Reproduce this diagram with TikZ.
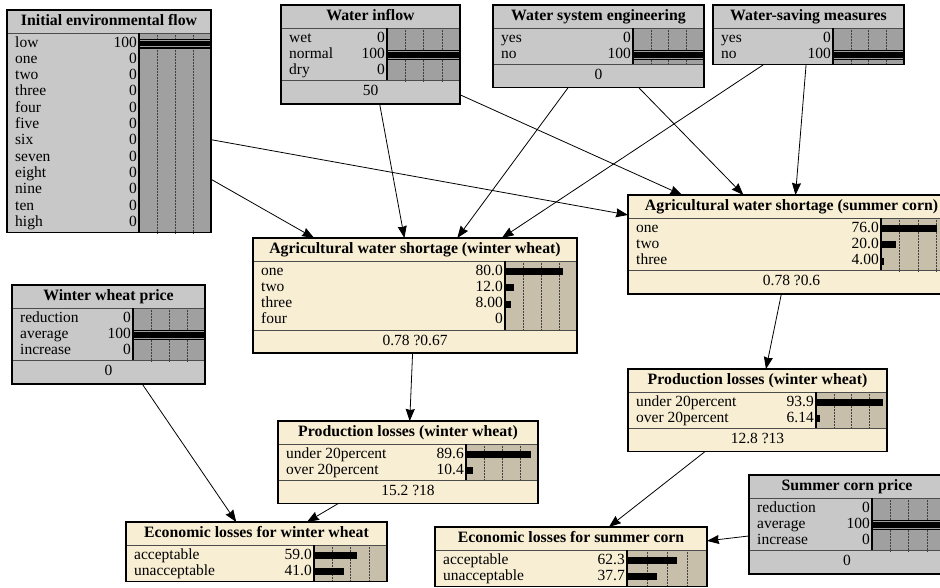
\documentclass[tikz,border=0pt]{standalone}
\usepackage{fontspec}
\setmainfont{Liberation Serif}
\usetikzlibrary{arrows.meta}
\definecolor{gfill}{RGB}{200,200,200}
\definecolor{gbar}{RGB}{160,160,160}
\definecolor{bfill}{RGB}{248,238,212}
\definecolor{bbar}{RGB}{200,191,171}
\tikzset{
  netbox/.style={anchor=north west, inner sep=0pt, outer sep=0pt},
  titletxt/.style={inner sep=0pt, text height=11pt, text depth=3.5pt, font=\fontsize{15.8}{18}\selectfont\bfseries},
  statetxt/.style={inner sep=0pt, text height=10.5pt, text depth=3.5pt, font=\fontsize{15.5}{17}\selectfont},
  gridln/.style={densely dotted, black!75, line width=.5pt},
  sepline/.style={black!70, line width=1pt},
  edge/.style={->, line width=.8pt}
}
% #1 name, #2 g/b, #3 left, #4 right, #5 top, #6 bar left, #7 title, #8 footer, #9 states
\newcommand{\bnnode}[9]{%
  \foreach \s [count=\nn] in {#9} {\xdef\nst{\nn}}
  \pgfmathsetmacro\ybar{#5+23+\nst*16.3+4}
  \if\relax\detokenize{#8}\relax
    \pgfmathsetmacro\ybot{\ybar}
  \else
    \pgfmathsetmacro\ybot{\ybar+23}
  \fi
  \node[netbox, fill=#2fill, minimum width={#4-#3}, minimum height={\ybot-#5}] (#1) at (#3,#5) {};
  \fill[#2bar] (#6,#5+23) rectangle (#4,\ybar);
  \foreach \k in {1,2,3}
    \draw[gridln] ({#6+\k*(#4-#6)/4},#5+23) -- ({#6+\k*(#4-#6)/4},\ybar);
  \foreach \lab/\val [count=\i] in {#9} {
    \pgfmathsetmacro\yy{#5+23+10.5+(\i-1)*16.3}
    \node[statetxt, anchor=west] at (#3+8,\yy) {\lab};
    \node[statetxt, anchor=east] at (#6-2,\yy) {\val};
    \ifdim\val pt=100pt
      \fill (#6,\yy-5) rectangle (#4,\yy+5);
      \draw[#2bar, line width=.8pt] (#6,\yy-3.3) -- (#4,\yy-3.3) (#6,\yy+3.3) -- (#4,\yy+3.3);
    \else
      \fill (#6,\yy-3.5) rectangle ({#6+\val*(#4-#6)/100},\yy+3.5);
    \fi
  }
  \draw[sepline] (#3,#5+23) -- (#4,#5+23);
  \draw[line width=1.2pt] (#6,#5+23) -- (#6,\ybar);
  \node[titletxt] at ({(#3+#4)/2},#5+11.5) {#7};
  \if\relax\detokenize{#8}\relax\else
    \draw[sepline] (#3,\ybar) -- (#4,\ybar);
    \node[statetxt] at ({(#3+#4)/2},{(\ybar+\ybot)/2}) {#8};
  \fi
  \draw[line width=1.5pt] (#1.north west) rectangle (#1.south east);
}
\begin{document}
\begin{tikzpicture}[x=1pt, y=-1pt, >={Stealth[length=12pt,width=9pt,inset=1pt]}]
\useasboundingbox[fill=white] (0,0) rectangle (940,587);

\bnnode{flow}{g}{7}{211}{10}{139}{Initial environmental flow}{}
  {low/100, one/0, two/0, three/0, four/0, five/0, six/0, seven/0, eight/0, nine/0, ten/0, high/0}
\bnnode{inflow}{g}{281}{460}{5}{387}{Water inflow}{50}{wet/0, normal/100, dry/0}
\bnnode{wse}{g}{493}{704}{5}{633}{Water system engineering}{0}{yes/0, no/100}
\bnnode{wsm}{g}{713}{904}{5}{833}{Water-saving measures}{}{yes/0, no/100}
\bnnode{awsww}{b}{253}{577}{238}{505}{Agricultural water shortage (winter wheat)}{0.78 ?0.67}
  {one/80.0, two/12.0, three/8.00, four/0}
\bnnode{awssc}{b}{628}{955}{195}{881}{Agricultural water shortage (summer corn)}{0.78 ?0.6}
  {one/76.0, two/20.0, three/4.00}
\bnnode{wwprice}{g}{12}{205}{285}{133}{Winter wheat price}{0}{reduction/0, average/100, increase/0}
\bnnode{plsc}{b}{628}{887}{369}{816}{Production losses (winter wheat)}{12.8 ?13}
  {under 20percent/93.9, over 20percent/6.14}
\bnnode{plww}{b}{278}{538}{421}{466}{Production losses (winter wheat)}{15.2 ?18}
  {under 20percent/89.6, over 20percent/10.4}
\bnnode{elww}{b}{126}{387}{522}{314}{Economic losses for winter wheat}{}
  {acceptable/59.0, unacceptable/41.0}
\bnnode{elsc}{b}{435}{707}{527}{627}{Economic losses for summer corn}{}
  {acceptable/62.3, unacceptable/37.7}
\bnnode{scprice}{g}{749}{945}{475}{872}{Summer corn price}{0}{reduction/0, average/100, increase/0}

\foreach \a/\b in {flow/awsww, flow/awssc, inflow/awsww, inflow/awssc, wse/awsww, wse/awssc,
  wsm/awsww, wsm/awssc, awsww/plww, awssc/plsc, wwprice/elww, plww/elww, plsc/elsc, scprice/elsc}
{
    \draw[edge] (\a) -- (\b);
}

\end{tikzpicture}
\end{document}
